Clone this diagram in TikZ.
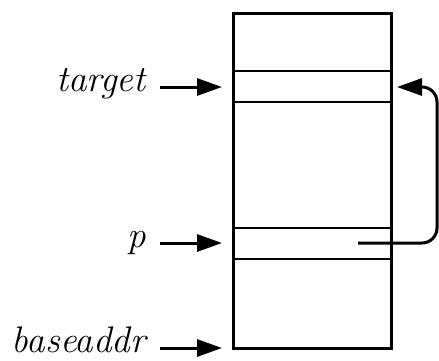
\documentclass[tikz,border=0pt]{standalone}
\usepackage{tikz}
\usetikzlibrary{arrows.meta,positioning}
\tikzset{
	ptr/.style={line width=1.5pt,-{Triangle[length=12.5pt,width=8.5pt]}},
	lbl/.style={anchor=mid east,inner sep=0pt,font=\fontsize{18.5}{22}\selectfont\itshape},
}
\begin{document}
\begin{tikzpicture}[x=0.5pt,y=-0.5pt]
	\useasboundingbox (0,0) rectangle (439,360);
	% memory block
	\draw[line width=1.5pt] (233,13) rectangle (391,348);
	\foreach \y in {71,102,228,259}
	\draw[line width=0.7pt] (233,\y) -- (391,\y);
	% names on the left
	\node[lbl] (target) at (146,87) {target};
	\node[lbl] (p) at (146,243) {p};
	\node[lbl] (baseaddr) at (146,348) {baseaddr};
	\coordinate (tgtrow) at (222,87);
	\coordinate (prow) at (222,243);
	\coordinate (baserow) at (222,348);
	\draw[ptr] ([xshift=7pt]target.mid east) -- (tgtrow);
	\draw[ptr] ([xshift=7pt]p.mid east) -- (prow);
	\draw[ptr] ([xshift=7pt]baseaddr.mid east) -- (baserow);
	% pointer stored in p
	\coordinate (pcell) at (358,243);
	\coordinate (tgtcell) at (397,87);
	\draw[ptr,rounded corners=7.5pt] (pcell) -- ++(79,0) |- (tgtcell);
\end{tikzpicture}
\end{document}
